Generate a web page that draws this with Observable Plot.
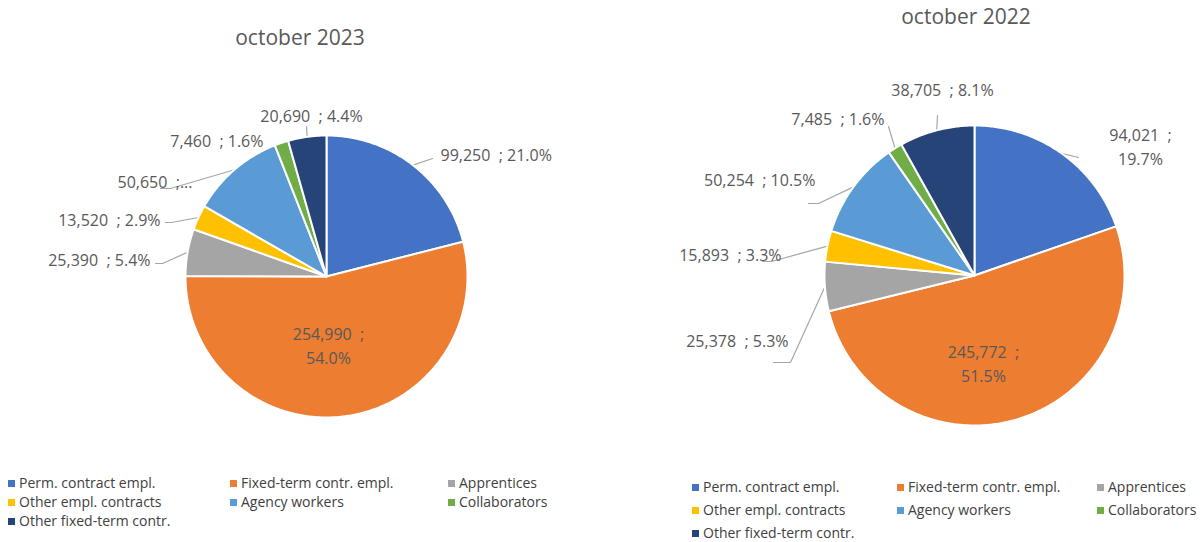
<!DOCTYPE html>
<html><head><meta charset="utf-8">
<script src="https://cdn.jsdelivr.net/npm/d3@7"></script>
<script src="https://cdn.jsdelivr.net/npm/@observablehq/plot@0.6"></script>
<style>
body{margin:0;background:#fff;font-family:"Open Sans",sans-serif;}
#wrap{position:relative;width:1201px;height:542px;overflow:hidden;background:#fff;}
.title{position:absolute;font-size:21px;color:#595959;transform:translate(-50%,-50%);white-space:nowrap;}
.chart{position:absolute;}
.item{position:absolute;white-space:nowrap;transform:translateY(-50%);font-size:14px;color:#404040;line-height:1;}
.sw{display:inline-block;width:7px;height:7px;margin-right:4px;vertical-align:1px;}
</style></head><body><div id="wrap"></div>
<script>
// ---- data ----
const categories = ["Perm. contract empl.", "Fixed-term contr. empl.", "Apprentices", "Other empl. contracts", "Agency workers", "Collaborators", "Other fixed-term contr."];
const colors = ["#4472C4", "#ED7D31", "#A5A5A5", "#FFC000", "#5B9BD5", "#70AD47", "#264478"];
const values2023 = [99250, 254990, 25390, 13520, 50650, 7460, 20690];
const values2022 = [94021, 245772, 25378, 15893, 50254, 7485, 38705];
const titles = ["october 2023", "october 2022"];

// ---- layout (pixels) ----
const layouts = [
  {left: 0, top: 50, w: 600, h: 420, cx: 326, cy: 226, r: 141,
   title: [300, 37], legendX: [8, 230, 448], legendY: [483, 502, 521],
   labels: [
     {anchor: "start", pos: [114, -123], lines: 1, leader: [[106, -118]]},
     {anchor: "middle", pos: [2, 68], lines: 2, leader: null},
     {anchor: "end", pos: [-176, -18], lines: 1, leader: [[-164, -13], [-171, -13]]},
     {anchor: "end", pos: [-166, -58], lines: 1, leader: [[-155, -54], [-161, -54]]},
     {anchor: "end", pos: [-134, -96], lines: 0, leader: [[-156, -88], [-166, -88]]},
     {anchor: "end", pos: [-63, -137], lines: 1, leader: null},
     {anchor: "middle", pos: [-15, -162], lines: 1, leader: [[-20, -150]]}
   ]},
  {left: 600, top: 50, w: 601, h: 420, cx: 374, cy: 225, r: 150,
   title: [966, 16], legendX: [692, 897, 1097], legendY: [487, 510, 533],
   labels: [
     {anchor: "middle", pos: [166, -130], lines: 2, leader: [[104, -118]]},
     {anchor: "middle", pos: [9, 87], lines: 2, leader: null},
     {anchor: "end", pos: [-186, 64], lines: 1, leader: [[-184, 87], [-201, 87]]},
     {anchor: "end", pos: [-193, -22], lines: 1, leader: [[-203, -14], [-212, -14]]},
     {anchor: "end", pos: [-159, -97], lines: 1, leader: [[-156, -72], [-166, -72]]},
     {anchor: "end", pos: [-90, -158], lines: 1, leader: [[-86, -149]]},
     {anchor: "middle", pos: [-32, -187], lines: 1, leader: [[-37, -160]]}
   ]}
];

const wrap = document.getElementById("wrap");
const fmt = d3.format(",");
const pct = d3.format(".1%");

function drawPie(values, L, title) {
  const total = d3.sum(values);
  const arcs = d3.pie().sort(null).value(d => d)(values);
  const pts = [], leaders = [], labels = [];
  arcs.forEach((a, i) => {
    const n = Math.max(2, Math.ceil((a.endAngle - a.startAngle) / 0.01));
    pts.push({k: categories[i], x: 0, y: 0});
    for (let j = 0; j <= n; j++) {
      const t = a.startAngle + (a.endAngle - a.startAngle) * j / n;
      pts.push({k: categories[i], x: L.r * Math.sin(t), y: L.r * Math.cos(t)});
    }
    const lab = L.labels[i];
    const mid = (a.startAngle + a.endAngle) / 2;
    if (lab.leader) {
      leaders.push({id: i, x: L.r * Math.sin(mid), y: L.r * Math.cos(mid)});
      lab.leader.forEach(p => leaders.push({id: i, x: p[0], y: -p[1]}));
    }
    const v = values[i];
    let text;
    if (lab.lines === 2) text = fmt(v) + "\u00a0\u00a0;\n" + pct(v / total);
    else if (lab.lines === 0) text = fmt(v) + "\u00a0\u00a0;...";
    else text = fmt(v) + "\u00a0\u00a0; " + pct(v / total);
    labels.push({x: lab.pos[0], y: -lab.pos[1], text, anchor: lab.anchor});
  });
  const textMark = anchor => Plot.text(labels.filter(d => d.anchor === anchor),
    {x: "x", y: "y", text: "text", textAnchor: anchor, fill: "#595959", lineHeight: 1.45});
  const svg = Plot.plot({
    width: L.w, height: L.h, margin: 0,
    x: {domain: [-L.cx, L.w - L.cx], axis: null},
    y: {domain: [-(L.h - L.cy), L.cy], axis: null},
    color: {domain: categories, range: colors},
    style: {fontFamily: "'Open Sans', sans-serif", fontSize: "16px", background: "transparent", overflow: "visible"},
    marks: [
      Plot.line(leaders, {x: "x", y: "y", z: "id", stroke: "#a6a6a6", strokeWidth: 1.2}),
      Plot.line(pts, {x: "x", y: "y", z: "k", fill: "k", stroke: "white", strokeWidth: 2, curve: "linear-closed"}),
      textMark("start"), textMark("end"), textMark("middle")
    ]
  });
  const holder = document.createElement("div");
  holder.className = "chart";
  holder.style.left = L.left + "px";
  holder.style.top = L.top + "px";
  holder.appendChild(svg);
  wrap.appendChild(holder);

  const t = document.createElement("div");
  t.className = "title";
  t.textContent = title;
  t.style.left = L.title[0] + "px";
  t.style.top = L.title[1] + "px";
  wrap.appendChild(t);

  categories.forEach((c, i) => {
    const it = document.createElement("div");
    it.className = "item";
    it.style.left = L.legendX[i % 3] + "px";
    it.style.top = L.legendY[Math.floor(i / 3)] + "px";
    const sw = document.createElement("span");
    sw.className = "sw";
    sw.style.background = colors[i];
    it.appendChild(sw);
    it.appendChild(document.createTextNode(c));
    wrap.appendChild(it);
  });
}

drawPie(values2023, layouts[0], titles[0]);
drawPie(values2022, layouts[1], titles[1]);
</script>
</body></html>
